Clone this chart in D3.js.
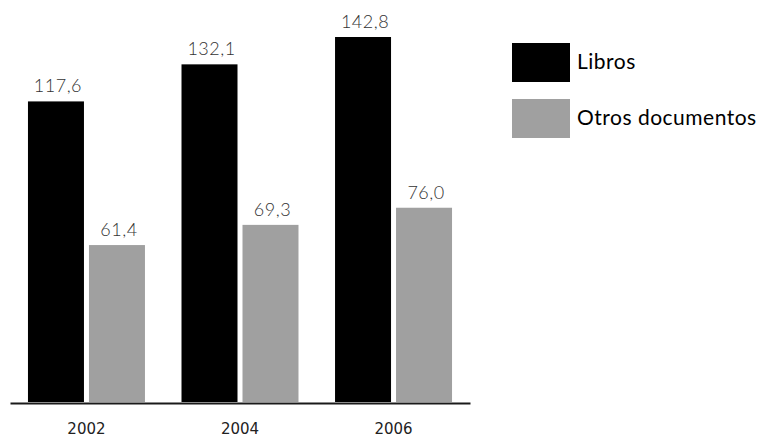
<!DOCTYPE html>
<meta charset="utf-8">
<script src="https://d3js.org/d3.v7.min.js"></script>
<style>
  body { margin: 0; background: #fff; }
</style>
<div id="chart"></div>
<script>

// data
var years = ["2002", "2004", "2006"];
var series = ["Libros", "Otros documentos"];
var libros = [117.6, 132.1, 142.8];
var otros = [61.4, 69.3, 76.0];
var colors = ["#000000", "#a0a0a0"];

var width = 758, height = 439;

var svg = d3.select("#chart")
  .append("svg")
    .attr("width", width)
    .attr("height", height);

// x scale for the year groups, outer padding gives the axis line its overhang
var x = d3.scaleBand()
    .domain(years)
    .range([10, 470])
    .paddingInner(0.238)
    .paddingOuter(0.117);

// position of each series inside a group
var xSub = d3.scaleBand()
    .domain(series)
    .range([0, x.bandwidth()])
    .paddingInner(0.082);

var y = d3.scaleLinear()
    .domain([0, 150])
    .range([402, 402 - 150 * 2.556]);

var color = d3.scaleOrdinal()
    .domain(series)
    .range(colors);

var rows = years.map(function(yr, i) {
  return {year: yr, values: [
    {key: series[0], value: libros[i]},
    {key: series[1], value: otros[i]}
  ]};
});

var fmt = function(v) { return d3.format(".1f")(v).replace(".", ","); };

var groups = svg.append("g")
  .selectAll("g")
  .data(rows)
  .enter().append("g")
    .attr("transform", function(d) { return "translate(" + x(d.year) + ",0)"; });

groups.selectAll("rect")
  .data(function(d) { return d.values; })
  .enter().append("rect")
    .attr("x", function(d) { return xSub(d.key); })
    .attr("y", function(d) { return y(d.value); })
    .attr("width", xSub.bandwidth())
    .attr("height", function(d) { return y(0) - y(d.value); })
    .attr("fill", function(d) { return color(d.key); });

// value labels
groups.selectAll("text")
  .data(function(d) { return d.values; })
  .enter().append("text")
    .attr("x", function(d) { return xSub(d.key) + xSub.bandwidth() / 2 + 2; })
    .attr("y", function(d) { return y(d.value) - 9; })
    .attr("text-anchor", "middle")
    .style("font-family", "Lato, 'Open Sans', sans-serif")
    .style("font-weight", 300)
    .style("font-size", "18px")
    .style("letter-spacing", "0.5px")
    .style("fill", "#333333")
    .text(function(d) { return fmt(d.value); });

// x axis
var xAxis = svg.append("g")
    .attr("transform", "translate(0," + 403 + ")")
    .call(d3.axisBottom(x).tickSize(0).tickPadding(20));

xAxis.select(".domain")
    .attr("stroke", "#1a1a1a")
    .attr("stroke-width", 2);

xAxis.selectAll("text")
    .attr("font-family", "'DejaVu Sans', sans-serif")
    .attr("font-size", 15)
    .attr("fill", "#222");

// legend
var legend = svg.append("g")
  .selectAll("g")
  .data(series)
  .enter().append("g")
    .attr("transform", function(d, i) { return "translate(512," + (43 + i * 56) + ")"; });

legend.append("rect")
    .attr("width", 58)
    .attr("height", 39)
    .attr("fill", function(d) { return color(d); });

legend.append("text")
    .attr("x", 65)
    .attr("y", 26)
    .style("font-family", "Lato, 'Open Sans', sans-serif")
    .style("font-size", "21px")
    .style("letter-spacing", "0.5px")
    .style("fill", "#000")
    .text(function(d) { return d; });

</script>
